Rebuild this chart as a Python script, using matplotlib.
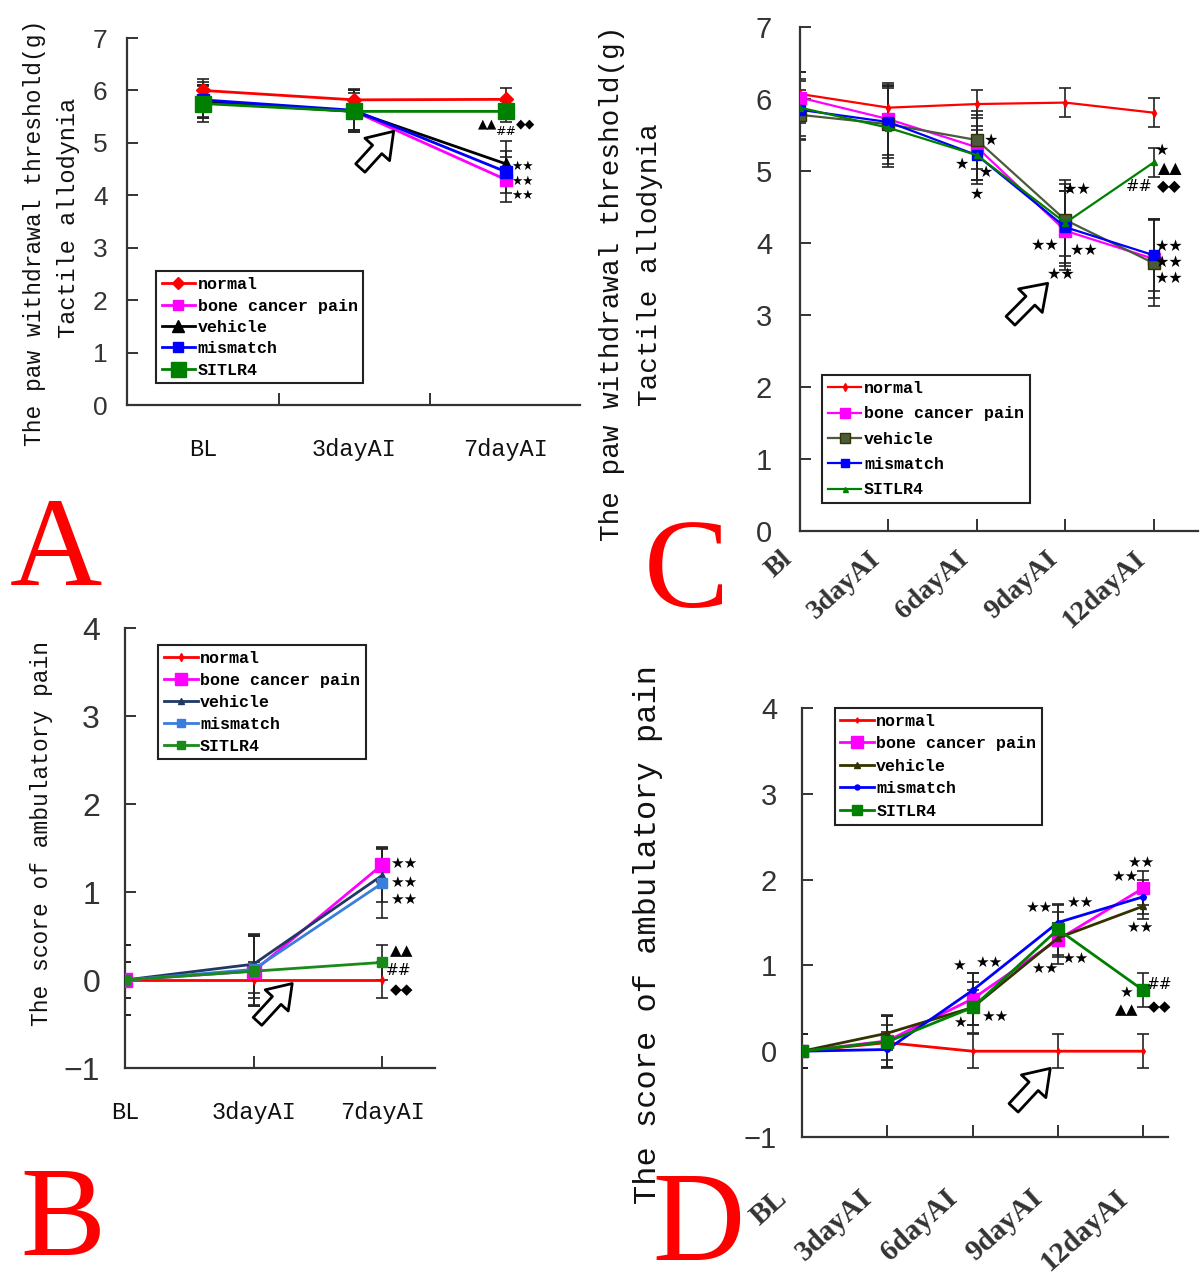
import matplotlib
matplotlib.use('Agg')
import matplotlib.pyplot as plt
import matplotlib.transforms as mtransforms

W, H = 1200, 1288
fig = plt.figure(figsize=(W / 100, H / 100), dpi=100)

groups = ['normal', 'bone cancer pain', 'vehicle', 'mismatch', 'SITLR4']

# ---------------- Panel A : tactile allodynia, 3 time points ----------------
a_cats = ['BL', '3dayAI', '7dayAI']
a_normal = [6.00, 5.82, 5.83]
a_bcp = [5.80, 5.60, 4.30]
a_vehicle = [5.78, 5.60, 4.60]
a_mismatch = [5.82, 5.62, 4.45]
a_sitlr4 = [5.75, 5.60, 5.60]
a_err_normal = [0.22, 0.20, 0.22]
a_err_bcp = [0.30, 0.40, 0.43]
a_err_vehicle = [0.30, 0.35, 0.43]
a_err_mismatch = [0.35, 0.38, 0.40]
a_err_sitlr4 = [0.35, 0.40, 0.20]
a_marks = [(1.88, 5.37, '▲▲'), (2.0, 5.21, '##'), (2.13, 5.37, '◆◆'),
           (2.11, 4.55, '★★'), (2.11, 4.26, '★★'), (2.11, 4.0, '★★')]
a_arrow = ((1.04, 4.52), (1.26, 5.22))

# ---------------- Panel B : ambulatory pain, 3 time points ----------------
b_cats = ['BL', '3dayAI', '7dayAI']
b_normal = [0.0, 0.0, 0.0]
b_bcp = [0.0, 0.10, 1.31]
b_vehicle = [0.0, 0.18, 1.19]
b_mismatch = [0.0, 0.12, 1.10]
b_sitlr4 = [0.0, 0.10, 0.20]
b_err_normal = [0.2, 0.2, 0.2]
b_err_bcp = [0.4, 0.4, 0.2]
b_err_vehicle = [0.4, 0.33, 0.3]
b_err_mismatch = [0.4, 0.4, 0.4]
b_err_sitlr4 = [0.2, 0.4, 0.2]
b_marks = [(2.17, 1.32, '★★'), (2.17, 1.11, '★★'), (2.17, 0.92, '★★'),
           (2.15, 0.33, '▲▲'), (2.13, 0.11, '##'), (2.15, -0.11, '◆◆')]
b_arrow = ((1.03, -0.47), (1.30, -0.04))

# ---------------- Panel C : tactile allodynia, 5 time points ----------------
c_cats = ['Bl', '3dayAI', '6dayAI', '9dayAI', '12dayAI']
c_normal = [6.07, 5.88, 5.93, 5.95, 5.81]
c_bcp = [6.02, 5.72, 5.33, 4.17, 3.78]
c_vehicle = [5.78, 5.65, 5.43, 4.32, 3.72]
c_mismatch = [5.85, 5.68, 5.22, 4.22, 3.83]
c_sitlr4 = [5.88, 5.60, 5.22, 4.28, 5.12]
c_err_normal = [0.30, 0.30, 0.20, 0.20, 0.20]
c_err_bcp = [0.35, 0.50, 0.45, 0.55, 0.55]
c_err_vehicle = [0.35, 0.55, 0.40, 0.50, 0.60]
c_err_mismatch = [0.40, 0.50, 0.35, 0.50, 0.50]
c_err_sitlr4 = [0.40, 0.55, 0.40, 0.60, 0.20]
c_marks = [(2.16, 5.42, '★'), (1.83, 5.09, '★'), (2.10, 4.98, '★'), (2.0, 4.67, '★'),
           (3.13, 4.75, '★★'), (2.77, 3.96, '★★'), (3.21, 3.89, '★★'), (2.96, 3.56, '★★'),
           (4.09, 5.28, '★'), (4.19, 5.03, '▲▲'), (3.83, 4.79, '##'), (4.18, 4.78, '◆◆'),
           (4.18, 3.95, '★★'), (4.18, 3.73, '★★'), (4.18, 3.51, '★★')]
c_arrow = ((2.38, 2.92), (2.80, 3.44))

# ---------------- Panel D : ambulatory pain, 5 time points ----------------
d_cats = ['BL', '3dayAI', '6dayAI', '9dayAI', '12dayAI']
d_normal = [0.0, 0.10, 0.0, 0.0, 0.0]
d_bcp = [0.0, 0.12, 0.61, 1.30, 1.90]
d_vehicle = [0.0, 0.21, 0.51, 1.32, 1.69]
d_mismatch = [0.0, 0.02, 0.71, 1.50, 1.80]
d_sitlr4 = [0.0, 0.11, 0.51, 1.42, 0.71]
d_err_normal = [0.2, 0.2, 0.2, 0.2, 0.2]
d_err_bcp = [0.2, 0.3, 0.3, 0.2, 0.2]
d_err_vehicle = [0.2, 0.2, 0.3, 0.3, 0.15]
d_err_mismatch = [0.2, 0.2, 0.2, 0.2, 0.2]
d_err_sitlr4 = [0.2, 0.3, 0.2, 0.3, 0.2]
d_marks = [(1.84, 1.00, '★'), (2.19, 1.03, '★★'), (1.85, 0.34, '★'), (2.26, 0.40, '★★'),
           (2.77, 1.68, '★★'), (3.25, 1.73, '★★'), (2.84, 0.97, '★★'), (3.20, 1.08, '★★'),
           (3.97, 2.20, '★★'), (3.78, 2.04, '★★'), (3.96, 1.44, '★★'),
           (4.19, 0.78, '##'), (3.79, 0.68, '★'), (3.81, 0.49, '▲▲'), (4.19, 0.52, '◆◆')]
d_arrow = ((2.48, -0.66), (2.91, -0.20))

MONO = ['Liberation Mono', 'DejaVu Sans Mono']
SANS = ['Liberation Sans', 'DejaVu Sans']
SYM = ['DejaVu Sans']


def rect(l, t, r, b):
    return [l / W, 1 - b / H, (r - l) / W, (b - t) / H]


def draw(ax, cats, series, errs, styles, lw):
    x = list(range(len(cats)))
    for ys, es in zip(series, errs):
        ax.errorbar(x, ys, yerr=es, fmt='none', ecolor='#222222', elinewidth=1.2,
                    capsize=4, capthick=1.2, zorder=2)
    for ys, name, st in zip(series, groups, styles):
        color, marker, ms = st
        ax.plot(x, ys, color=color, marker=marker, markersize=ms, lw=lw,
                markeredgecolor=color, label=name, zorder=3)


def style(ax, xlim, ylim, yticks, ysize, ypad):
    ax.set_xlim(*xlim)
    ax.set_ylim(*ylim)
    for s in ['top', 'right']:
        ax.spines[s].set_visible(False)
    for s in ['left', 'bottom']:
        ax.spines[s].set_linewidth(1.6)
        ax.spines[s].set_color('#333333')
    labs = [('\u2212' + str(-v)) if v < 0 else str(v) for v in yticks]
    ax.set_yticks(yticks)
    ax.set_yticklabels(labs, fontfamily=SANS, fontsize=ysize)
    ax.tick_params(axis='y', direction='in', length=8, width=1.4, pad=ypad, colors='#333333',
                   labelcolor='#333333')
    ax.tick_params(axis='x', direction='in', length=9, width=1.4, colors='#333333')


def legend(ax, bbox, fsize, spacing):
    leg = ax.legend(loc='upper left', bbox_to_anchor=bbox, bbox_transform=ax.transAxes,
                    prop=dict(family=MONO, weight='bold', size=fsize), frameon=True,
                    fancybox=False, edgecolor='#222222', framealpha=1, borderpad=0.35,
                    labelspacing=spacing, handlelength=2.0, handletextpad=0.15,
                    borderaxespad=0, markerscale=0.9)
    leg.get_frame().set_linewidth(1.5)


def marks(ax, items, size):
    for x, y, t in items:
        ax.text(x, y, t, ha='center', va='center', fontsize=size, fontfamily=SYM, color='black',
                zorder=5)


def arrow(ax, a, scale):
    (x0, y0), (x1, y1) = a
    ax.annotate('', xy=(x1, y1), xytext=(x0, y0),
                arrowprops=dict(arrowstyle='simple,head_length=0.55,head_width=0.75,tail_width=0.28',
                                fc='white', ec='black', lw=2.0, mutation_scale=scale,
                                shrinkA=0, shrinkB=0), zorder=6)


# ---------------- A ----------------
axA = fig.add_axes(rect(127, 38, 580, 405))
stA = [('#ff0000', 'D', 7), ('#ff00ff', 's', 8), ('#000000', '^', 9),
       ('#0000ff', 's', 8), ('#008000', 's', 12)]
draw(axA, a_cats, [a_normal, a_bcp, a_vehicle, a_mismatch, a_sitlr4],
     [a_err_normal, a_err_bcp, a_err_vehicle, a_err_mismatch, a_err_sitlr4], stA, 2.0)
style(axA, (-0.5, 2.49), (0, 7), list(range(0, 8)), 19, 14)
axA.set_xticks([0.5, 1.5])
axA.set_xticklabels([])
axA.set_xticks([0, 1, 2], minor=True)
axA.set_xticklabels(a_cats, minor=True, fontfamily=MONO, fontsize=17)
axA.tick_params(axis='x', which='minor', length=0, pad=24, labelcolor='#111111')
legend(axA, (0.064, 0.364), 12, 0.38)
marks(axA, a_marks, 9)
arrow(axA, a_arrow, 32)
fig.text(35 / W, 1 - 233 / H, 'The paw withdrawal threshold(g)', rotation=90, ha='center',
         va='center', fontfamily=MONO, fontsize=16.5, color='#111111')
fig.text(68 / W, 1 - 218 / H, 'Tactile allodynia', rotation=90, ha='center',
         va='center', fontfamily=MONO, fontsize=17, color='#111111')

# ---------------- C ----------------
axC = fig.add_axes(rect(800, 27, 1198, 531))
stC = [('#ff0000', 'd', 4), ('#ff00ff', 's', 8), ('#333300', 's', 8),
       ('#0000ff', 's', 7), ('#008000', '^', 4)]
draw(axC, c_cats, [c_normal, c_bcp, c_vehicle, c_mismatch, c_sitlr4],
     [c_err_normal, c_err_bcp, c_err_vehicle, c_err_mismatch, c_err_sitlr4], stC, 1.6)
axC.lines[-3].set_color('#4a5a3a')
style(axC, (0, 4.5), (0, 7), list(range(0, 8)), 21, 20)
axC.set_xticks(range(len(c_cats)))
axC.set_xticklabels(c_cats, fontfamily=['Liberation Serif'], fontweight='bold', fontsize=20,
                    rotation=42, ha='right', va='top', rotation_mode='anchor')
axC.tick_params(axis='x', pad=11)
offC = mtransforms.ScaledTranslation(-20 / 100, 0, fig.dpi_scale_trans)
for lab in axC.get_xticklabels():
    lab.set_transform(lab.get_transform() + offC)
legend(axC, (0.056, 0.309), 12, 0.62)
marks(axC, c_marks, 11.5)
arrow(axC, c_arrow, 32)
fig.text(612 / W, 1 - 283 / H, 'The paw withdrawal threshold(g)', rotation=90, ha='center',
         va='center', fontfamily=MONO, fontsize=20, color='#111111')
fig.text(650 / W, 1 - 265 / H, 'Tactile allodynia', rotation=90, ha='center',
         va='center', fontfamily=MONO, fontsize=20, color='#111111')

# ---------------- B ----------------
axB = fig.add_axes(rect(125, 628, 435, 1068))
stB = [('#ff0000', 'd', 4), ('#ff00ff', 's', 10), ('#1f3864', '^', 5),
       ('#3a7edc', 's', 7), ('#1a8a1a', 's', 7)]
draw(axB, b_cats, [b_normal, b_bcp, b_vehicle, b_mismatch, b_sitlr4],
     [b_err_normal, b_err_bcp, b_err_vehicle, b_err_mismatch, b_err_sitlr4], stB, 2.0)
style(axB, (0, 2.41), (-1, 4), list(range(-1, 5)), 23, 18)
axB.set_xticks(range(len(b_cats)))
axB.set_xticklabels(b_cats, fontfamily=MONO, fontsize=17, color='#111111')
axB.tick_params(axis='x', pad=24)
legend(axB, (0.108, 0.962), 12, 0.42)
marks(axB, b_marks, 11)
arrow(axB, b_arrow, 30)
fig.text(42 / W, 1 - 833 / H, 'The score of ambulatory pain', rotation=90, ha='center',
         va='center', fontfamily=MONO, fontsize=16.5, color='#111111')

# ---------------- D ----------------
axD = fig.add_axes(rect(802, 708, 1168, 1137))
stD = [('#ff0000', 'd', 3), ('#ff00ff', 's', 9), ('#333300', '^', 5),
       ('#0000ff', 'o', 4), ('#008000', 's', 8)]
draw(axD, d_cats, [d_normal, d_bcp, d_vehicle, d_mismatch, d_sitlr4],
     [d_err_normal, d_err_bcp, d_err_vehicle, d_err_mismatch, d_err_sitlr4], stD, 2.0)
style(axD, (0, 4.29), (-1, 4), list(range(-1, 5)), 21, 18)
axD.set_xticks(range(len(d_cats)))
axD.set_xticklabels(d_cats, fontfamily=['Liberation Serif'], fontweight='bold', fontsize=21,
                    rotation=42, ha='right', va='top', rotation_mode='anchor')
axD.tick_params(axis='x', pad=34)
offD = mtransforms.ScaledTranslation(-28 / 100, 0, fig.dpi_scale_trans)
for lab in axD.get_xticklabels():
    lab.set_transform(lab.get_transform() + offD)
legend(axD, (0.089, 1.0), 12, 0.45)
marks(axD, d_marks, 11)
arrow(axD, d_arrow, 32)
fig.text(648 / W, 1 - 935 / H, 'The score of ambulatory pain', rotation=90, ha='center',
         va='center', fontfamily=MONO, fontsize=23, color='#111111')

# ---------------- panel letters ----------------
for (xc, yb, t) in [(56, 585, 'A'), (686, 607, 'C'), (63, 1255, 'B'), (698, 1260, 'D')]:
    fig.text(xc / W, 1 - yb / H, t, ha='center', va='baseline', color='#ff0000',
             fontfamily=['Liberation Serif'], fontsize=92)

fig.savefig('out.png', dpi=100, facecolor='white')
